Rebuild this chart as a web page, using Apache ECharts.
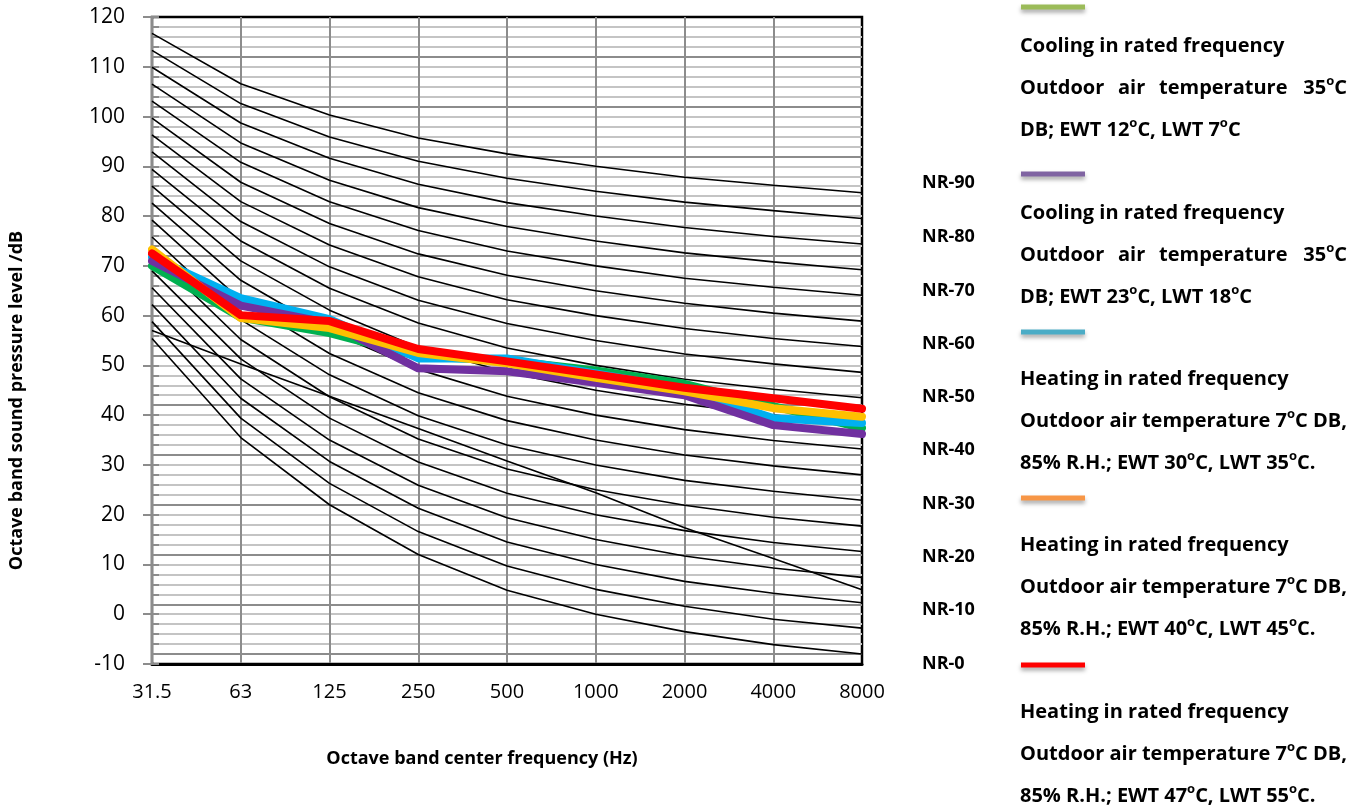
<!DOCTYPE html>
<html>
<head>
<meta charset="utf-8">
<script src="https://cdn.jsdelivr.net/npm/echarts@6/dist/echarts.min.js"></script>
<style>
  html, body { margin: 0; padding: 0; background: #fff; }
  #myChart { width: 1365px; height: 809px; }
</style>
</head>
<body>
<div id="myChart"></div>
<script>
// octave band centre frequencies (Hz)
const frequencies = ["31.5", "63", "125", "250", "500", "1000", "2000", "4000", "8000"];

// NR reference curves, one every 5 dB
const nr0 = [55.4, 35.5, 22.0, 12.0, 4.8, 0.0, -3.5, -6.1, -8.0];
const nr5 = [58.8, 39.4, 26.3, 16.6, 9.7, 5.0, 1.6, -1.0, -2.8];
const nr10 = [62.2, 43.4, 30.7, 21.3, 14.5, 10.0, 6.6, 4.2, 2.3];
const nr15 = [65.6, 47.3, 35.0, 25.9, 19.4, 15.0, 11.7, 9.3, 7.4];
const nr20 = [69.0, 51.3, 39.4, 30.6, 24.3, 20.0, 16.8, 14.4, 12.6];
const nr25 = [72.4, 55.2, 43.7, 35.2, 29.2, 25.0, 21.9, 19.5, 17.7];
const nr30 = [75.8, 59.2, 48.1, 39.9, 34.0, 30.0, 26.9, 24.7, 22.9];
const nr35 = [79.2, 63.1, 52.4, 44.5, 38.9, 35.0, 32.0, 29.8, 28.0];
const nr40 = [82.6, 67.1, 56.8, 49.2, 43.8, 40.0, 37.1, 34.9, 33.2];
const nr45 = [86.0, 71.0, 61.1, 53.6, 48.6, 45.0, 42.2, 40.0, 38.3];
const nr50 = [89.4, 75.0, 65.5, 58.5, 53.5, 50.0, 47.2, 45.2, 43.5];
const nr55 = [92.9, 78.9, 69.8, 63.1, 58.4, 55.0, 52.3, 50.3, 48.6];
const nr60 = [96.3, 82.9, 74.2, 67.8, 63.2, 60.0, 57.4, 55.4, 53.8];
const nr65 = [99.7, 86.8, 78.5, 72.4, 68.1, 65.0, 62.5, 60.5, 58.9];
const nr70 = [103.1, 90.8, 82.9, 77.1, 73.0, 70.0, 67.5, 65.7, 64.1];
const nr75 = [106.5, 94.7, 87.2, 81.7, 77.9, 75.0, 72.6, 70.8, 69.2];
const nr80 = [109.9, 98.7, 91.6, 86.4, 82.7, 80.0, 77.7, 75.9, 74.4];
const nr85 = [113.3, 102.6, 95.9, 91.0, 87.6, 85.0, 82.8, 81.1, 79.5];
const nr90 = [116.7, 106.6, 100.3, 95.7, 92.5, 90.0, 87.8, 86.2, 84.7];
// the odd straight line crossing the lower curves
const extraLine = [57.0, 50.3, 43.8, 37.3, 30.8, 24.4, 17.4, 11.2, 4.9];

// measured unit curves
const coolingA = [70.0, 59.6, 56.5, 51.8, 51.0, 49.0, 46.3, 41.8, 37.4];
const coolingB = [71.0, 62.0, 58.5, 49.4, 48.8, 46.5, 44.0, 38.0, 36.2];
const heatingA = [71.8, 63.5, 59.3, 51.4, 51.4, 48.4, 45.2, 39.4, 38.4];
const heatingB = [73.3, 59.5, 57.5, 52.5, 50.4, 47.5, 44.8, 41.4, 39.7];
const heatingC = [72.5, 60.1, 58.9, 53.3, 50.8, 48.2, 45.5, 43.4, 41.3];

const nrLabels = ["NR-90", "NR-80", "NR-70", "NR-60", "NR-50", "NR-40", "NR-30", "NR-20", "NR-10", "NR-0"];
const legendText = [
  ["Cooling in rated frequency", "Outdoor air temperature 35°C", "DB; EWT 12°C, LWT 7°C"],
  ["Cooling in rated frequency", "Outdoor air temperature 35°C", "DB; EWT 23°C, LWT 18°C"],
  ["Heating in rated frequency", "Outdoor air temperature 7°C DB,", "85% R.H.; EWT 30°C, LWT 35°C."],
  ["Heating in rated frequency", "Outdoor air temperature 7°C DB,", "85% R.H.; EWT 40°C, LWT 45°C."],
  ["Heating in rated frequency", "Outdoor air temperature 7°C DB,", "85% R.H.; EWT 47°C, LWT 55°C."]
];

const font = "'Open Sans', 'Liberation Sans', sans-serif";
const nrCurves = [nr0, nr5, nr10, nr15, nr20, nr25, nr30, nr35, nr40, nr45,
  nr50, nr55, nr60, nr65, nr70, nr75, nr80, nr85, nr90, extraLine];

const series = [];
nrCurves.forEach((d) => {
  series.push({
    type: "line", data: d, symbol: "none", silent: true, z: 2,
    lineStyle: { color: "#000", width: 1.6 }
  });
});
const unitColors = ["#00B050", "#00B0F0", "#7030A0", "#FFC000", "#FF0000"];
[coolingA, heatingA, coolingB, heatingB, heatingC].forEach((d, i) => {
  series.push({
    type: "line", data: d, symbol: "none", z: 3 + i,
    lineStyle: { color: unitColors[i], width: 8, join: "round", cap: "round" }
  });
});

// legend + NR labels drawn as graphic text
const graphic = [];
const nrY = [183, 237, 291, 344, 397, 450, 504, 557, 610, 664];
nrLabels.forEach((t, i) => {
  graphic.push({
    type: "text", left: 922, top: nrY[i] - 9,
    style: { text: t, font: "bold 18px " + font, fill: "#000" }
  });
});

function richLine(str) {
  return str.split("°").map((p) => p ? "{b|" + p + "}" : "").join("{s|o}");
}
const richStyle = {
  b: { fontSize: 20, fontWeight: "bold", fontFamily: "Open Sans", lineHeight: 26, fill: "#000" },
  s: { fontSize: 13, fontWeight: "bold", fontFamily: "Open Sans", lineHeight: 13, verticalAlign: "top", fill: "#000" }
};
const swatchColors = ["#9BBB59", "#8064A2", "#4BACC6", "#F79646", "#FF0000"];
const swatchY = [7, 174, 332, 498, 665];
const lineGap = [38, 80, 122];
legendText.forEach((lines, i) => {
  graphic.push({
    type: "rect", shape: { x: 1021, y: swatchY[i] - 2.5, width: 64, height: 5 },
    style: { fill: swatchColors[i], shadowBlur: 4, shadowOffsetY: 3, shadowColor: "rgba(0,0,0,0.35)" }
  });
  lines.forEach((ln, j) => {
    const y = swatchY[i] + lineGap[j] + (i >= 2 ? 8 : 0);
    if (i < 2 && j === 1) {
      // justified line in the source
      const words = ln.split(" ");
      const xs = [1020, 1118, 1159, 1347];
      words.forEach((w, k) => {
        graphic.push({
          type: "text", x: xs[k], y: y - 12,
          style: { text: richLine(w), rich: richStyle, align: k === 3 ? "right" : "left" }
        });
      });
    } else {
      graphic.push({
        type: "text", x: 1020, y: y - 12,
        style: { text: richLine(ln), rich: richStyle }
      });
    }
  });
});

const chart = echarts.init(document.getElementById("myChart"));
chart.setOption({
  animation: false,
  backgroundColor: "#fff",
  grid: {
    left: 148, right: 503, top: 17, bottom: 145,
    show: true, borderColor: "#000", borderWidth: 2.5
  },
  xAxis: {
    type: "category",
    boundaryGap: false,
    data: frequencies,
    name: "Octave band center frequency (Hz)",
    nameLocation: "middle",
    nameGap: 86,
    nameTextStyle: { fontFamily: font, fontWeight: "bold", fontSize: 18, color: "#000", padding: [0, 50, 0, 0] },
    axisLine: { onZero: false, lineStyle: { color: "#000", width: 3 } },
    axisTick: { show: false },
    axisLabel: { fontFamily: font, fontSize: 20, color: "#000", margin: 18 },
    splitLine: { show: true, showMinLine: false, showMaxLine: false, lineStyle: { color: "#8c8c8c", width: 2 } }
  },
  yAxis: [{
    type: "value",
    min: -10, max: 120, interval: 10,
    name: "Octave band sound pressure level /dB",
    nameLocation: "middle",
    nameGap: 126,
    nameTextStyle: { fontFamily: font, fontWeight: "bold", fontSize: 18, color: "#000", padding: [0, 120, 0, 0] },
    axisLine: { show: true, lineStyle: { color: "#8c8c8c", width: 2 } },
    axisTick: { show: true, length: 9, lineStyle: { color: "#8c8c8c", width: 2 } },
    axisLabel: { fontFamily: font, fontSize: 21, color: "#000", margin: 27 },
    splitLine: { show: false }
  }, {
    // minor grid every 2 dB
    type: "value",
    position: "left",
    min: -10, max: 120, interval: 2,
    axisLine: { show: true, lineStyle: { color: "#8c8c8c", width: 2 } },
    axisTick: { show: true, inside: true, length: 7, lineStyle: { color: "#8c8c8c", width: 2 } },
    axisLabel: { show: false },
    splitLine: {
      show: true, showMinLine: false, showMaxLine: false,
      lineStyle: { color: ["#8c8c8c", "#c4c4c4", "#c4c4c4", "#c4c4c4", "#c4c4c4"], width: 2 }
    }
  }],
  series: series,
  graphic: graphic
});
</script>
</body>
</html>
